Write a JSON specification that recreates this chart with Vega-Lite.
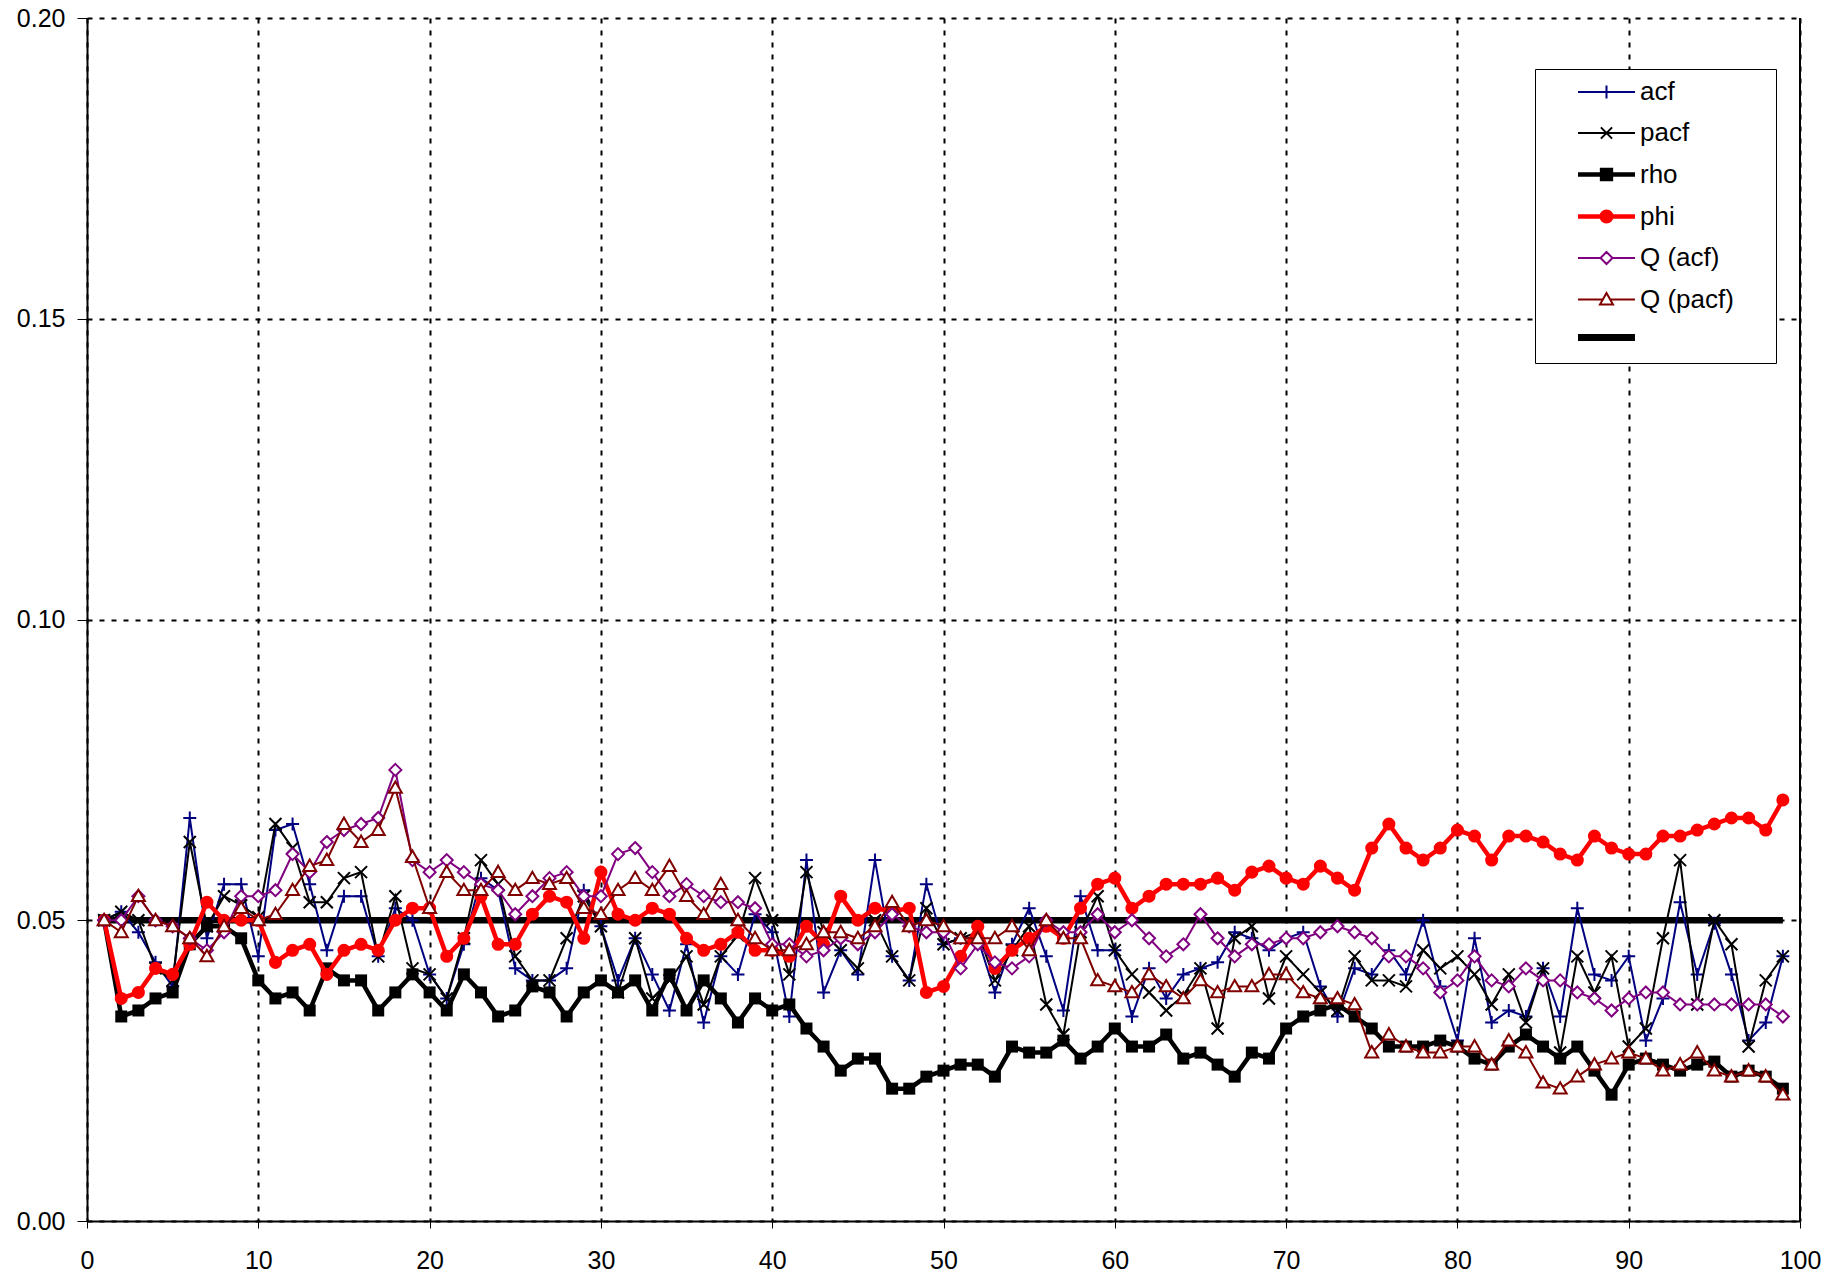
{
  "$schema": "https://vega.github.io/schema/vega-lite/v6.json",
  "width": 1713,
  "height": 1203,
  "autosize": {"type": "none"},
  "padding": {"left": 87, "top": 18, "right": 48, "bottom": 57},
  "background": "white",
  "config": {
    "font": "Liberation Sans",
    "view": {"stroke": null},
    "axis": {
      "domainColor": "black", "domainWidth": 2,
      "tickColor": "black", "tickWidth": 1,
      "labelFont": "Liberation Sans", "labelFontSize": 25, "labelColor": "black", "labelFlush": false,
      "grid": true, "gridColor": "black", "gridDash": [5, 7], "gridWidth": 2, "gridOpacity": 1
    },
    "axisX": {"labelPadding": 20, "tickSize": 7},
    "axisY": {"labelPadding": 12, "tickSize": 10},
    "legend": {
      "orient": "none", "title": null, "padding": 0,
      "labelFont": "Liberation Sans", "labelFontSize": 26, "labelColor": "black",
      "symbolSize": 196, "symbolOffset": 0, "labelOffset": 20.5
    }
  },
  "resolve": {"scale": {"color": "independent"}, "legend": {"color": "independent"}},
  "data": {"values": [
    {"x":1,"acf":0.050,"pacf":0.050,"rho":0.050,"phi":0.050,"qa":0.050,"qp":0.050,"thr":0.05},
    {"x":2,"acf":0.0514,"pacf":0.0514,"rho":0.034,"phi":0.037,"qa":0.050,"qp":0.048,"thr":0.05},
    {"x":3,"acf":0.048,"pacf":0.050,"rho":0.035,"phi":0.038,"qa":0.054,"qp":0.054,"thr":0.05},
    {"x":4,"acf":0.043,"pacf":0.042,"rho":0.037,"phi":0.042,"qa":0.050,"qp":0.050,"thr":0.05},
    {"x":5,"acf":0.039,"pacf":0.040,"rho":0.038,"phi":0.041,"qa":0.049,"qp":0.049,"thr":0.05},
    {"x":6,"acf":0.067,"pacf":0.063,"rho":0.046,"phi":0.046,"qa":0.047,"qp":0.047,"thr":0.05},
    {"x":7,"acf":0.047,"pacf":0.049,"rho":0.049,"phi":0.053,"qa":0.045,"qp":0.044,"thr":0.05},
    {"x":8,"acf":0.056,"pacf":0.054,"rho":0.049,"phi":0.050,"qa":0.048,"qp":0.049,"thr":0.05},
    {"x":9,"acf":0.056,"pacf":0.0525,"rho":0.047,"phi":0.050,"qa":0.054,"qp":0.052,"thr":0.05},
    {"x":10,"acf":0.044,"pacf":0.0505,"rho":0.040,"phi":0.050,"qa":0.054,"qp":0.050,"thr":0.05},
    {"x":11,"acf":0.065,"pacf":0.066,"rho":0.037,"phi":0.043,"qa":0.055,"qp":0.051,"thr":0.05},
    {"x":12,"acf":0.066,"pacf":0.062,"rho":0.038,"phi":0.045,"qa":0.061,"qp":0.055,"thr":0.05},
    {"x":13,"acf":0.056,"pacf":0.053,"rho":0.035,"phi":0.046,"qa":0.058,"qp":0.059,"thr":0.05},
    {"x":14,"acf":0.045,"pacf":0.053,"rho":0.042,"phi":0.041,"qa":0.063,"qp":0.060,"thr":0.05},
    {"x":15,"acf":0.054,"pacf":0.057,"rho":0.040,"phi":0.045,"qa":0.065,"qp":0.066,"thr":0.05},
    {"x":16,"acf":0.054,"pacf":0.058,"rho":0.040,"phi":0.046,"qa":0.066,"qp":0.063,"thr":0.05},
    {"x":17,"acf":0.044,"pacf":0.044,"rho":0.035,"phi":0.045,"qa":0.067,"qp":0.065,"thr":0.05},
    {"x":18,"acf":0.052,"pacf":0.054,"rho":0.038,"phi":0.050,"qa":0.075,"qp":0.072,"thr":0.05},
    {"x":19,"acf":0.050,"pacf":0.042,"rho":0.041,"phi":0.052,"qa":0.060,"qp":0.0605,"thr":0.05},
    {"x":20,"acf":0.041,"pacf":0.041,"rho":0.038,"phi":0.052,"qa":0.058,"qp":0.052,"thr":0.05},
    {"x":21,"acf":0.037,"pacf":0.037,"rho":0.035,"phi":0.044,"qa":0.060,"qp":0.058,"thr":0.05},
    {"x":22,"acf":0.046,"pacf":0.047,"rho":0.041,"phi":0.047,"qa":0.058,"qp":0.055,"thr":0.05},
    {"x":23,"acf":0.057,"pacf":0.060,"rho":0.038,"phi":0.054,"qa":0.056,"qp":0.055,"thr":0.05},
    {"x":24,"acf":0.055,"pacf":0.056,"rho":0.034,"phi":0.046,"qa":0.055,"qp":0.058,"thr":0.05},
    {"x":25,"acf":0.042,"pacf":0.044,"rho":0.035,"phi":0.046,"qa":0.051,"qp":0.055,"thr":0.05},
    {"x":26,"acf":0.040,"pacf":0.040,"rho":0.039,"phi":0.051,"qa":0.054,"qp":0.057,"thr":0.05},
    {"x":27,"acf":0.040,"pacf":0.040,"rho":0.038,"phi":0.054,"qa":0.057,"qp":0.056,"thr":0.05},
    {"x":28,"acf":0.042,"pacf":0.047,"rho":0.034,"phi":0.053,"qa":0.058,"qp":0.057,"thr":0.05},
    {"x":29,"acf":0.055,"pacf":0.054,"rho":0.038,"phi":0.047,"qa":0.054,"qp":0.052,"thr":0.05},
    {"x":30,"acf":0.049,"pacf":0.049,"rho":0.040,"phi":0.058,"qa":0.054,"qp":0.051,"thr":0.05},
    {"x":31,"acf":0.040,"pacf":0.038,"rho":0.038,"phi":0.051,"qa":0.061,"qp":0.055,"thr":0.05},
    {"x":32,"acf":0.047,"pacf":0.047,"rho":0.040,"phi":0.050,"qa":0.062,"qp":0.057,"thr":0.05},
    {"x":33,"acf":0.041,"pacf":0.037,"rho":0.035,"phi":0.052,"qa":0.058,"qp":0.055,"thr":0.05},
    {"x":34,"acf":0.035,"pacf":0.040,"rho":0.041,"phi":0.051,"qa":0.054,"qp":0.059,"thr":0.05},
    {"x":35,"acf":0.046,"pacf":0.044,"rho":0.035,"phi":0.047,"qa":0.056,"qp":0.054,"thr":0.05},
    {"x":36,"acf":0.033,"pacf":0.036,"rho":0.040,"phi":0.045,"qa":0.054,"qp":0.051,"thr":0.05},
    {"x":37,"acf":0.044,"pacf":0.044,"rho":0.037,"phi":0.046,"qa":0.053,"qp":0.056,"thr":0.05},
    {"x":38,"acf":0.041,"pacf":0.0475,"rho":0.033,"phi":0.048,"qa":0.053,"qp":0.050,"thr":0.05},
    {"x":39,"acf":0.051,"pacf":0.057,"rho":0.037,"phi":0.045,"qa":0.052,"qp":0.047,"thr":0.05},
    {"x":40,"acf":0.048,"pacf":0.050,"rho":0.035,"phi":0.045,"qa":0.046,"qp":0.045,"thr":0.05},
    {"x":41,"acf":0.034,"pacf":0.041,"rho":0.036,"phi":0.044,"qa":0.046,"qp":0.045,"thr":0.05},
    {"x":42,"acf":0.060,"pacf":0.058,"rho":0.032,"phi":0.049,"qa":0.044,"qp":0.046,"thr":0.05},
    {"x":43,"acf":0.038,"pacf":0.048,"rho":0.029,"phi":0.046,"qa":0.045,"qp":0.048,"thr":0.05},
    {"x":44,"acf":0.045,"pacf":0.045,"rho":0.025,"phi":0.054,"qa":0.047,"qp":0.048,"thr":0.05},
    {"x":45,"acf":0.041,"pacf":0.042,"rho":0.027,"phi":0.050,"qa":0.046,"qp":0.047,"thr":0.05},
    {"x":46,"acf":0.060,"pacf":0.050,"rho":0.027,"phi":0.052,"qa":0.048,"qp":0.049,"thr":0.05},
    {"x":47,"acf":0.044,"pacf":0.044,"rho":0.022,"phi":0.0515,"qa":0.051,"qp":0.053,"thr":0.05},
    {"x":48,"acf":0.040,"pacf":0.040,"rho":0.022,"phi":0.052,"qa":0.049,"qp":0.049,"thr":0.05},
    {"x":49,"acf":0.056,"pacf":0.052,"rho":0.024,"phi":0.038,"qa":0.048,"qp":0.050,"thr":0.05},
    {"x":50,"acf":0.046,"pacf":0.046,"rho":0.025,"phi":0.039,"qa":0.048,"qp":0.049,"thr":0.05},
    {"x":51,"acf":0.047,"pacf":0.047,"rho":0.026,"phi":0.044,"qa":0.042,"qp":0.047,"thr":0.05},
    {"x":52,"acf":0.047,"pacf":0.048,"rho":0.026,"phi":0.049,"qa":0.046,"qp":0.047,"thr":0.05},
    {"x":53,"acf":0.038,"pacf":0.040,"rho":0.024,"phi":0.042,"qa":0.043,"qp":0.047,"thr":0.05},
    {"x":54,"acf":0.046,"pacf":0.045,"rho":0.029,"phi":0.045,"qa":0.042,"qp":0.049,"thr":0.05},
    {"x":55,"acf":0.052,"pacf":0.049,"rho":0.028,"phi":0.047,"qa":0.044,"qp":0.045,"thr":0.05},
    {"x":56,"acf":0.044,"pacf":0.036,"rho":0.028,"phi":0.049,"qa":0.050,"qp":0.050,"thr":0.05},
    {"x":57,"acf":0.035,"pacf":0.031,"rho":0.030,"phi":0.047,"qa":0.048,"qp":0.047,"thr":0.05},
    {"x":58,"acf":0.054,"pacf":0.048,"rho":0.027,"phi":0.052,"qa":0.048,"qp":0.047,"thr":0.05},
    {"x":59,"acf":0.045,"pacf":0.054,"rho":0.029,"phi":0.056,"qa":0.051,"qp":0.040,"thr":0.05},
    {"x":60,"acf":0.045,"pacf":0.045,"rho":0.032,"phi":0.057,"qa":0.048,"qp":0.039,"thr":0.05},
    {"x":61,"acf":0.034,"pacf":0.041,"rho":0.029,"phi":0.052,"qa":0.050,"qp":0.038,"thr":0.05},
    {"x":62,"acf":0.042,"pacf":0.038,"rho":0.029,"phi":0.054,"qa":0.047,"qp":0.041,"thr":0.05},
    {"x":63,"acf":0.037,"pacf":0.035,"rho":0.031,"phi":0.056,"qa":0.044,"qp":0.039,"thr":0.05},
    {"x":64,"acf":0.041,"pacf":0.0375,"rho":0.027,"phi":0.056,"qa":0.046,"qp":0.037,"thr":0.05},
    {"x":65,"acf":0.042,"pacf":0.042,"rho":0.028,"phi":0.056,"qa":0.051,"qp":0.040,"thr":0.05},
    {"x":66,"acf":0.043,"pacf":0.032,"rho":0.026,"phi":0.057,"qa":0.047,"qp":0.038,"thr":0.05},
    {"x":67,"acf":0.048,"pacf":0.047,"rho":0.024,"phi":0.055,"qa":0.044,"qp":0.039,"thr":0.05},
    {"x":68,"acf":0.047,"pacf":0.049,"rho":0.028,"phi":0.058,"qa":0.046,"qp":0.039,"thr":0.05},
    {"x":69,"acf":0.045,"pacf":0.037,"rho":0.027,"phi":0.059,"qa":0.046,"qp":0.041,"thr":0.05},
    {"x":70,"acf":0.047,"pacf":0.044,"rho":0.032,"phi":0.057,"qa":0.047,"qp":0.041,"thr":0.05},
    {"x":71,"acf":0.048,"pacf":0.041,"rho":0.034,"phi":0.056,"qa":0.047,"qp":0.038,"thr":0.05},
    {"x":72,"acf":0.039,"pacf":0.038,"rho":0.035,"phi":0.059,"qa":0.048,"qp":0.037,"thr":0.05},
    {"x":73,"acf":0.034,"pacf":0.035,"rho":0.036,"phi":0.057,"qa":0.049,"qp":0.037,"thr":0.05},
    {"x":74,"acf":0.042,"pacf":0.044,"rho":0.034,"phi":0.055,"qa":0.048,"qp":0.036,"thr":0.05},
    {"x":75,"acf":0.041,"pacf":0.040,"rho":0.032,"phi":0.062,"qa":0.047,"qp":0.028,"thr":0.05},
    {"x":76,"acf":0.045,"pacf":0.040,"rho":0.029,"phi":0.066,"qa":0.044,"qp":0.031,"thr":0.05},
    {"x":77,"acf":0.041,"pacf":0.039,"rho":0.029,"phi":0.062,"qa":0.044,"qp":0.029,"thr":0.05},
    {"x":78,"acf":0.050,"pacf":0.045,"rho":0.029,"phi":0.060,"qa":0.042,"qp":0.028,"thr":0.05},
    {"x":79,"acf":0.039,"pacf":0.042,"rho":0.030,"phi":0.062,"qa":0.038,"qp":0.028,"thr":0.05},
    {"x":80,"acf":0.030,"pacf":0.044,"rho":0.029,"phi":0.065,"qa":0.040,"qp":0.029,"thr":0.05},
    {"x":81,"acf":0.047,"pacf":0.041,"rho":0.027,"phi":0.064,"qa":0.044,"qp":0.029,"thr":0.05},
    {"x":82,"acf":0.033,"pacf":0.036,"rho":0.026,"phi":0.060,"qa":0.040,"qp":0.026,"thr":0.05},
    {"x":83,"acf":0.035,"pacf":0.041,"rho":0.029,"phi":0.064,"qa":0.039,"qp":0.030,"thr":0.05},
    {"x":84,"acf":0.034,"pacf":0.033,"rho":0.031,"phi":0.064,"qa":0.042,"qp":0.028,"thr":0.05},
    {"x":85,"acf":0.042,"pacf":0.042,"rho":0.029,"phi":0.063,"qa":0.040,"qp":0.023,"thr":0.05},
    {"x":86,"acf":0.034,"pacf":0.028,"rho":0.027,"phi":0.061,"qa":0.040,"qp":0.022,"thr":0.05},
    {"x":87,"acf":0.052,"pacf":0.044,"rho":0.029,"phi":0.060,"qa":0.038,"qp":0.024,"thr":0.05},
    {"x":88,"acf":0.041,"pacf":0.038,"rho":0.025,"phi":0.064,"qa":0.037,"qp":0.026,"thr":0.05},
    {"x":89,"acf":0.040,"pacf":0.044,"rho":0.021,"phi":0.062,"qa":0.035,"qp":0.027,"thr":0.05},
    {"x":90,"acf":0.044,"pacf":0.029,"rho":0.026,"phi":0.061,"qa":0.037,"qp":0.028,"thr":0.05},
    {"x":91,"acf":0.030,"pacf":0.032,"rho":0.027,"phi":0.061,"qa":0.038,"qp":0.027,"thr":0.05},
    {"x":92,"acf":0.037,"pacf":0.047,"rho":0.026,"phi":0.064,"qa":0.038,"qp":0.025,"thr":0.05},
    {"x":93,"acf":0.053,"pacf":0.060,"rho":0.025,"phi":0.064,"qa":0.036,"qp":0.026,"thr":0.05},
    {"x":94,"acf":0.041,"pacf":0.036,"rho":0.026,"phi":0.065,"qa":0.036,"qp":0.028,"thr":0.05},
    {"x":95,"acf":0.0495,"pacf":0.050,"rho":0.0265,"phi":0.066,"qa":0.036,"qp":0.025,"thr":0.05},
    {"x":96,"acf":0.041,"pacf":0.046,"rho":0.024,"phi":0.067,"qa":0.036,"qp":0.024,"thr":0.05},
    {"x":97,"acf":0.030,"pacf":0.029,"rho":0.025,"phi":0.067,"qa":0.036,"qp":0.025,"thr":0.05},
    {"x":98,"acf":0.033,"pacf":0.040,"rho":0.024,"phi":0.065,"qa":0.036,"qp":0.024,"thr":0.05},
    {"x":99,"acf":0.044,"pacf":0.044,"rho":0.022,"phi":0.070,"qa":0.034,"qp":0.021,"thr":0.05}
  ]},
  "encoding": {
    "x": {"field": "x", "type": "quantitative", "title": null,
      "scale": {"domain": [0, 100], "nice": false, "zero": false},
      "axis": {"values": [0,10,20,30,40,50,60,70,80,90,100], "format": "d"}}
  },
  "layer": [
    {
      "mark": {"type": "line", "strokeWidth": 6.5, "strokeCap": "butt"},
      "encoding": {
        "y": {"field": "thr", "type": "quantitative", "title": null,
          "scale": {"domain": [0, 0.2], "nice": false},
          "axis": {"values": [0, 0.05, 0.1, 0.15, 0.2], "format": ".2f"}},
        "color": {"datum": "thr", "scale": {"range": ["#000000"]},
          "legend": {"legendX": 1448, "legendY": 51, "padding": 11,
            "fillColor": "white", "strokeColor": "black",
            "title": ["\u00a0", "\u00a0", "\u00a0", "\u00a0", "\u00a0", "\u00a0"],
            "titleFontSize": 26, "titleLineHeight": 41.5, "titlePadding": 11, "titleAnchor": "start",
            "labelExpr": "''",
            "symbolOffset": 47.5, "labelOffset": 68,
            "symbolType": "M-4.07,0H4.07M20.6,0L20.6,0", "symbolStrokeColor": "#000000", "symbolFillColor": "transparent", "symbolStrokeWidth": 7}}
      }
    },
    {
      "mark": {"type": "line", "strokeWidth": 2,
        "point": {"shape": "M-1,0H1M0,-1V1", "size": 169, "filled": false, "strokeWidth": 2}},
      "encoding": {"y": {"field": "acf", "type": "quantitative", "title": null},
        "color": {"datum": "acf", "scale": {"range": ["#000080"]},
          "legend": {"legendX": 1506.5, "legendY": 61,
            "symbolType": "M-4.07,0H4.07M0,-0.93V0.93", "symbolStrokeColor": "#000080", "symbolFillColor": "transparent", "symbolStrokeWidth": 2}}}
    },
    {
      "mark": {"type": "line", "strokeWidth": 2,
        "point": {"shape": "M-1,-1L1,1M-1,1L1,-1", "size": 144, "filled": false, "strokeWidth": 2}},
      "encoding": {"y": {"field": "pacf", "type": "quantitative", "title": null},
        "color": {"datum": "pacf", "scale": {"range": ["#000000"]},
          "legend": {"legendX": 1506.5, "legendY": 102,
            "symbolType": "M-4.07,0H4.07M-0.8,-0.8L0.8,0.8M-0.8,0.8L0.8,-0.8", "symbolStrokeColor": "#000000", "symbolFillColor": "transparent", "symbolStrokeWidth": 2}}}
    },
    {
      "mark": {"type": "line", "strokeWidth": 4.5,
        "point": {"shape": "square", "size": 144, "filled": true, "opacity": 1}},
      "encoding": {"y": {"field": "rho", "type": "quantitative", "title": null},
        "color": {"datum": "rho", "scale": {"range": ["#000000"]},
          "legend": {"legendX": 1506.5, "legendY": 143.5,
            "symbolType": "M-4.07,0H4.07M-0.63,-0.63H0.63V0.63H-0.63Z", "symbolStrokeColor": "#000000", "symbolFillColor": "#000000", "symbolStrokeWidth": 4.5}}}
    },
    {
      "mark": {"type": "line", "strokeWidth": 4.5,
        "point": {"shape": "circle", "size": 170, "filled": true, "opacity": 1}},
      "encoding": {"y": {"field": "phi", "type": "quantitative", "title": null},
        "color": {"datum": "phi", "scale": {"range": ["#FF0000"]},
          "legend": {"legendX": 1506.5, "legendY": 185.5,
            "symbolType": "M-4.07,0H4.07M0.69,0A0.69,0.69 0 1,1 -0.69,0A0.69,0.69 0 1,1 0.69,0Z", "symbolStrokeColor": "#FF0000", "symbolFillColor": "#FF0000", "symbolStrokeWidth": 4.5}}}
    },
    {
      "mark": {"type": "line", "strokeWidth": 2,
        "point": {"shape": "M0,-1L1,0L0,1L-1,0Z", "size": 144, "filled": false, "fill": "white", "strokeWidth": 2}},
      "encoding": {"y": {"field": "qa", "type": "quantitative", "title": null},
        "color": {"datum": "Q (acf)", "scale": {"range": ["#800080"]},
          "legend": {"legendX": 1506.5, "legendY": 227,
            "symbolType": "M-4.07,0H-0.86M0.86,0H4.07M0,-0.86L0.86,0L0,0.86L-0.86,0Z", "symbolStrokeColor": "#800080", "symbolFillColor": "#FFFFFF", "symbolStrokeWidth": 2}}}
    },
    {
      "mark": {"type": "line", "strokeWidth": 2,
        "point": {"shape": "M0,-1L1,0.75L-1,0.75Z", "size": 169, "filled": false, "fill": "white", "strokeWidth": 2}},
      "encoding": {"y": {"field": "qp", "type": "quantitative", "title": null},
        "color": {"datum": "Q (pacf)", "scale": {"range": ["#800000"]},
          "legend": {"legendX": 1506.5, "legendY": 268.5,
            "symbolType": "M-4.07,0H-0.52M0.52,0H4.07M0,-0.93L0.93,0.72L-0.93,0.72Z", "symbolStrokeColor": "#800000", "symbolFillColor": "#FFFFFF", "symbolStrokeWidth": 2}}}
    },
    {
      "mark": {"type": "rule", "strokeWidth": 2, "color": "black"},
      "encoding": {"x": {"datum": 100}}
    }
  ]
}
